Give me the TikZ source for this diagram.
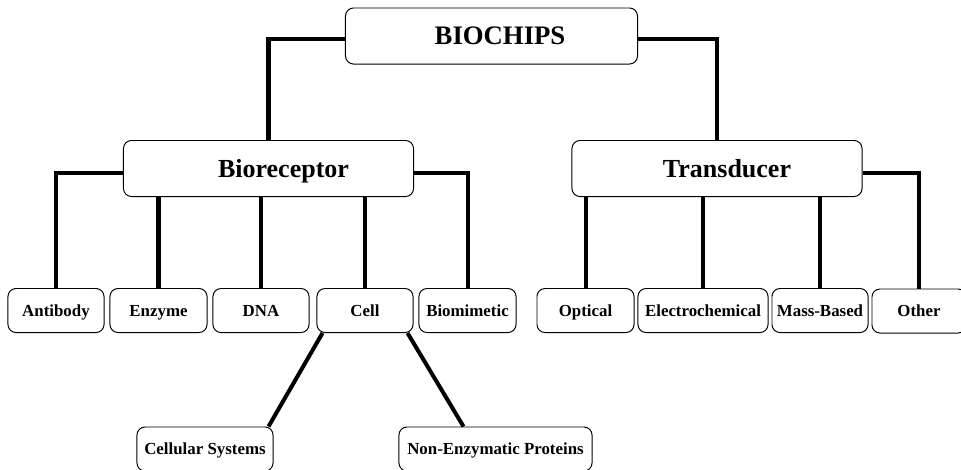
\documentclass[tikz,border=0pt]{standalone}
\usepackage{fontspec}
\setmainfont{Liberation Serif}
\usepackage{tikz}

\tikzset{
  box/.style={draw, rounded corners=0.2cm, line width=0.7pt, inner sep=0pt,
    text depth=0pt},
  headbox/.style={box, minimum width=#1, minimum height=1.4cm,
    font=\fontsize{18.5}{22}\selectfont\bfseries},
  leafbox/.style={box, minimum width=#1, minimum height=1.1cm,
    font=\fontsize{12}{14}\selectfont\bfseries},
  textshift/.style={execute at begin node={\hspace*{#1}}},
  link/.style={line width=2.85pt}
}

\begin{document}
\begin{tikzpicture}[x=0.025cm,y=-0.025cm]
  \useasboundingbox (0,0) rectangle (961,469);

  % top levels
  \node[headbox=7.3cm, textshift=0.425cm, font=\fontsize{19}{22}\selectfont\bfseries]
    (chips) at (491.5,36) {BIOCHIPS};
  \node[headbox=7.25cm, textshift=0.75cm]  (bio)   at (268.5,168.5) {Bioreceptor};
  \node[headbox=7.25cm, textshift=0.5cm]   (trans) at (717,168.5)   {Transducer};

  % bioreceptor types
  \node[leafbox=2.4cm]   (anti)  at (56,310.5)    {Antibody};
  \node[leafbox=2.425cm] (enz)   at (158.5,310.5) {Enzyme};
  \node[leafbox=2.4cm]   (dna)   at (261,310.5)   {DNA};
  \node[leafbox=2.4cm]   (cell)  at (365,310.5)   {Cell};
  \node[leafbox=2.425cm] (mimic) at (467.5,310.5) {Biomimetic};

  % transducer types
  \node[leafbox=2.425cm] (opt)   at (585.5,310.5) {Optical};
  \node[leafbox=3.25cm]  (elec)  at (703,310.5)   {Electrochemical};
  \node[leafbox=2.4cm]   (mass)  at (820,310.5)   {Mass-Based};
  \node[leafbox=2.35cm]  (other) at (919,311)     {Other};

  % cell types
  \node[leafbox=3.4cm]   (csys)  at (205,449)   {Cellular Systems};
  \node[leafbox=4.825cm] (nonenz) at (495.5,449) {Non-Enzymatic Proteins};

  % connectors
  \draw[link] ([yshift=-0.075cm]chips.west) -| (bio.north);
  \draw[link] ([yshift=-0.075cm]chips.east) -| (trans.north);

  \draw[link] ([yshift=-0.1cm]bio.west) -| (anti.north);
  \draw[link] ([yshift=-0.1cm]bio.east) -| (mimic.north);
  \draw[link] (enz.north)  -- (enz.north |- bio.south);
  \draw[link] (dna.north)  -- (dna.north |- bio.south);
  \draw[link] (cell.north) -- (cell.north |- bio.south);

  \draw[link] ([yshift=-0.1cm]trans.east) -| (other.north);
  \draw[link] (opt.north)  -- (opt.north |- trans.south);
  \draw[link] (elec.north) -- (elec.north |- trans.south);
  \draw[link] (mass.north) -- (mass.north |- trans.south);

  \draw[link] ([xshift=0.15cm]cell.south west) -- ([xshift=-0.125cm]csys.north east);
  \draw[link] ([xshift=-0.15cm]cell.south east) -- ([xshift=1.625cm]nonenz.north west);
\end{tikzpicture}
\end{document}
